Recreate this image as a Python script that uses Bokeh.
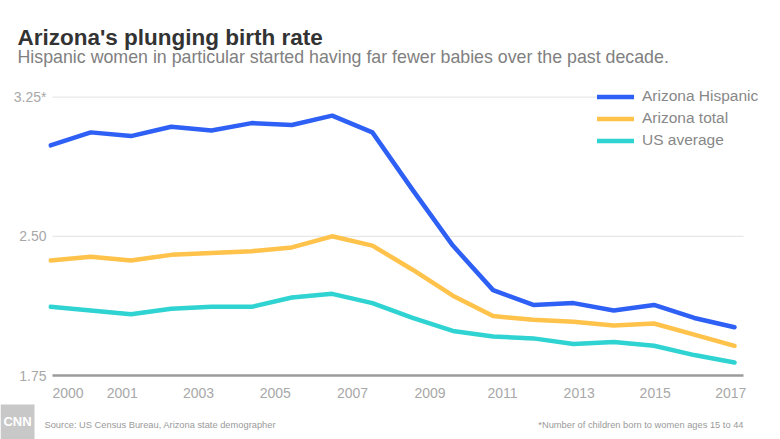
from bokeh.plotting import figure
from bokeh.models import (Range1d, FixedTicker, Label, Legend, LegendItem, BoxAnnotation)
from bokeh.layouts import column
from bokeh.embed import file_html
from bokeh.resources import INLINE

# ---- data ----
years = list(range(2000, 2018))
az_hispanic = [2.99, 3.06, 3.04, 3.09, 3.07, 3.11, 3.10, 3.15, 3.06, 2.75,
               2.45, 2.21, 2.13, 2.14, 2.10, 2.13, 2.06, 2.01]
az_total = [2.37, 2.39, 2.37, 2.40, 2.41, 2.42, 2.44, 2.50, 2.45, 2.32,
            2.18, 2.07, 2.05, 2.04, 2.02, 2.03, 1.97, 1.91]
us_average = [2.12, 2.10, 2.08, 2.11, 2.12, 2.12, 2.17, 2.19, 2.14, 2.06,
              1.99, 1.96, 1.95, 1.92, 1.93, 1.91, 1.86, 1.82]
series_names = ["Arizona Hispanic", "Arizona total", "US average"]
x_tick_labels = ["2000", "2001", "2003", "2005", "2007", "2009", "2011", "2013", "2015", "2017"]
y_ticks = [1.75, 2.50, 3.25]
y_tick_labels = ["1.75", "2.50", "3.25*"]

# ---- layout / style ----
x_tick_pos = [2000.435, 2001.782, 2003.678, 2005.585, 2007.506, 2009.432,
              2011.234, 2013.14, 2015.029, 2016.908]
axis_bounds = (2000.05, 2017.224)
colors = ["#2e60f5", "#ffc24a", "#2fd3d1"]
FONT = "Liberation Sans"
W = 780


def blank(height):
    f = figure(width=W, height=height, output_backend="svg", toolbar_location=None,
               x_axis_location=None, y_axis_location=None,
               x_range=Range1d(0, 1), y_range=Range1d(0, 1), frame_align=False,
               min_border_left=0, min_border_right=0, min_border_top=0, min_border_bottom=0)
    f.outline_line_color = None
    f.xgrid.visible = False
    f.ygrid.visible = False
    f.border_fill_color = "white"
    f.background_fill_color = "white"
    return f


def text(fig, s, x, y, size, color, style="normal", align="left", baseline="alphabetic"):
    fig.add_layout(Label(x=x, y=y, x_units="screen", y_units="screen", text=s,
                         text_font=FONT, text_font_size=size, text_color=color,
                         text_font_style=style, text_align=align, text_baseline=baseline))


# header (page y 0..76)
header = blank(76)
text(header, "Arizona's plunging birth rate", 17, 39.5, "22.5px", "#333333", "bold")
text(header, "Hispanic women in particular started having far fewer babies over the past decade.",
     17, 20, "17.8px", "#808080")

# main chart (page y 76..400)
p = figure(width=W, height=324, output_backend="svg", toolbar_location=None,
           x_range=Range1d(1999.9503, 2017.7705), y_range=Range1d(1.75, 3.318),
           min_border_left=48, min_border_right=15, min_border_top=8,
           min_border_bottom=25, frame_align=False)
p.outline_line_color = None
p.background_fill_color = "white"
p.border_fill_color = "white"
p.xgrid.visible = False
p.ygrid.visible = False

# horizontal grid lines, limited to the same extent as the x axis line
p.segment(x0=[axis_bounds[0]] * len(y_ticks), x1=[axis_bounds[1]] * len(y_ticks),
          y0=y_ticks, y1=y_ticks, line_color="#e2e2e2", line_width=1)

renderers = []
for vals, col in zip([az_hispanic, az_total, us_average], colors):
    r = p.line(years, vals, line_color=col, line_width=4.5,
               line_cap="round", line_join="round")
    renderers.append(r)

xa = p.xaxis[0]
xa.bounds = axis_bounds
xa.ticker = FixedTicker(ticks=x_tick_pos)
xa.major_label_overrides = {t: l for t, l in zip(x_tick_pos, x_tick_labels)}
xa.axis_line_color = "#9b9b9b"
xa.axis_line_width = 2.5
xa.major_tick_line_color = None
xa.minor_tick_line_color = None
xa.major_tick_out = 0
xa.major_label_standoff = 12
xa.major_label_text_font = FONT
xa.major_label_text_font_size = "14px"
xa.major_label_text_color = "#a8a8a8"

ya = p.yaxis[0]
ya.ticker = FixedTicker(ticks=y_ticks)
ya.major_label_overrides = {t: l for t, l in zip(y_ticks, y_tick_labels)}
ya.axis_line_color = None
ya.major_tick_line_color = None
ya.minor_tick_line_color = None
ya.major_tick_out = 0
ya.major_label_standoff = 2
ya.major_label_text_font = FONT
ya.major_label_text_font_size = "14px"
ya.major_label_text_color = "#a8a8a8"

legend = Legend(items=[LegendItem(label=n, renderers=[r]) for n, r in zip(series_names, renderers)],
                location=(549, 225.5), orientation="vertical",
                label_text_font=FONT, label_text_font_size="15.5px",
                label_text_color="#888888", glyph_width=37, glyph_height=19,
                label_height=19, label_standoff=8, spacing=3, padding=8,
                margin=0, border_line_color=None, background_fill_color="white",
                background_fill_alpha=1.0)
p.add_layout(legend, "center")

# footer (page y 400..439)
footer = blank(39)
footer.add_layout(BoxAnnotation(left=0, right=34, bottom=0, top=35,
                                left_units="screen", right_units="screen",
                                bottom_units="screen", top_units="screen",
                                fill_color="#c8c8c8", fill_alpha=1.0, line_color=None))
text(footer, "CNN", 17, 18, "13px", "white", "bold", align="center", baseline="middle")
text(footer, "Source: US Census Bureau, Arizona state demographer", 44, 14.5, "9.3px", "#9a9a9a")
text(footer, "*Number of children born to women ages 15 to 44", 743, 14.5, "9.3px", "#9a9a9a",
     align="right")

layout = column(header, p, footer, spacing=0)
open("out.html", "w").write(file_html(layout, INLINE))
